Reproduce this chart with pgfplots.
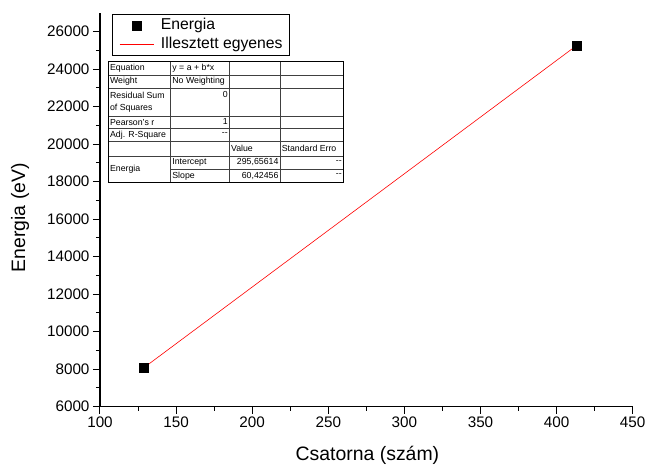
\documentclass[border=0pt]{standalone}
\usepackage{pgfplots}
\pgfplotsset{compat=1.18}
\usepackage{fontspec}
\setmainfont{Liberation Sans}
\begin{document}
\begin{tikzpicture}[x=1bp,y=1bp]
\begin{axis}[
  scale only axis, width=532.7bp, height=393.8bp,
  xmin=100, xmax=450, ymin=6000, ymax=27000,
  scaled ticks=false,
  axis x line=bottom, axis y line=left,
  axis line style={-, line width=1.1bp},
  xtick={100,150,...,450}, ytick={6000,8000,...,26000},
  minor x tick num=1, minor y tick num=1,
  tick align=outside, major tick length=7bp, minor tick length=4bp,
  tick style={line width=1bp, black},
  /pgf/number format/assume math mode=true,
  /pgf/number format/1000 sep={},
  ticklabel style={font=\fontsize{15.3}{16}\selectfont},
  xlabel={Csatorna (szám)}, ylabel={Energia (eV)},
  label style={font=\fontsize{19.5}{20}\selectfont},
  xlabel style={at={(axis description cs:0.502,0)}, anchor=center, yshift=-49bp},
  ylabel style={at={(axis description cs:-0.1502,0.48)}, anchor=center},
  legend style={at={(axis description cs:0.0220,0.9967)}, anchor=north west,
    draw=black, line width=0.8bp, font=\fontsize{15.8}{17}\selectfont,
    inner xsep=7bp, inner ysep=2bp,
    nodes={inner xsep=0bp, inner ysep=1.15bp, text height=12bp, text depth=4bp}},
  legend cell align=left,
]
\addplot[only marks, mark=square*, mark size=4.6bp, black,
  legend image code/.code={\path (0bp,0bp) (41bp,0bp); \draw plot coordinates {(17bp,0bp)};}]
  coordinates {(128.5,8060) (413.3,25270)};
\addlegendentry{Energia}
\addplot[red, line width=0.6bp, no marks,
  legend image code/.code={\path (0bp,0bp) (41bp,0bp); \draw[red, line width=0.6bp] (0bp,0bp) -- (34bp,0bp);}]
  coordinates {(128.5,8060) (413.3,25270)};
\addlegendentry{Illesztett egyenes}
\end{axis}
% fit result table
\begin{scope}[font=\fontsize{8.8}{9.5}\selectfont, shift={(-0.8,-1.3)}]
\def\ca{9.2}\def\cb{71.5}\def\cc{130.2}\def\cd{180.9}\def\ce{244.2}
\draw[black!75, line width=0.5bp] (\ca,333) -- (\ce,333);
\draw[black!75, line width=0.5bp] (\ca,319.7) -- (\ce,319.7);
\draw[black!75, line width=0.5bp] (\ca,292) -- (\ce,292);
\draw[black!75, line width=0.5bp] (\ca,279.7) -- (\ce,279.7);
\draw[black!75, line width=0.5bp] (\ca,266.3) -- (\ce,266.3);
\draw[black!75, line width=0.5bp] (\ca,252) -- (\ce,252);
\draw[black!75, line width=0.5bp] (\cb,239) -- (\ce,239);
\draw[black!75, line width=0.5bp] (\cb,225.3) -- (\cb,346.3);
\draw[black!75, line width=0.5bp] (\cc,225.3) -- (\cc,346.3);
\draw[black!75, line width=0.5bp] (\cd,225.3) -- (\cd,346.3);
\draw[black, line width=1.1bp] (\ca,225.3) rectangle (\ce,346.3);
\node[anchor=west, inner sep=1.5bp] at (\ca,339.7) {Equation};
\node[anchor=west, inner sep=1.5bp] at (\ca,326.4) {Weight};
\node[anchor=west, inner sep=1.5bp] at (\ca,312.8) {Residual Sum};
\node[anchor=west, inner sep=1.5bp] at (\ca,299.5) {of Squares};
\node[anchor=west, inner sep=1.5bp] at (\ca,285.9) {Pearson's r};
\node[anchor=west, inner sep=1.5bp] at (\ca,273) {Adj. R-Square};
\node[anchor=west, inner sep=1.5bp] at (\ca,238.6) {Energia};
\node[anchor=west, inner sep=1.5bp] at (\cb,339.7) {y = a + b*x};
\node[anchor=west, inner sep=1.5bp] at (\cb,326.4) {No Weighting};
\node[anchor=east, inner sep=1.5bp] at (\cc,313.5) {0};
\node[anchor=east, inner sep=1.5bp] at (\cc,286.3) {1};
\node[anchor=east, inner sep=1.5bp] at (\cc,273.5) {{-}{-}};
\node[anchor=west, inner sep=1.5bp] at (\cb,245.7) {Intercept};
\node[anchor=west, inner sep=1.5bp] at (\cb,232.2) {Slope};
\node[anchor=west, inner sep=1.5bp] at (\cc,259.3) {Value};
\node[anchor=east, inner sep=1.5bp] at (\cd,245.9) {295,65614};
\node[anchor=east, inner sep=1.5bp] at (\cd,232.4) {60,42456};
\node[anchor=west, inner sep=1.5bp] at (\cd,259.3) {Standard Erro};
\node[anchor=east, inner sep=1.5bp] at (\ce,245.9) {{-}{-}};
\node[anchor=east, inner sep=1.5bp] at (\ce,232.4) {{-}{-}};
\end{scope}
\pgfresetboundingbox
\path[use as bounding box] (-100,-62.3) rectangle (546,406.7);
\end{tikzpicture}
\end{document}
